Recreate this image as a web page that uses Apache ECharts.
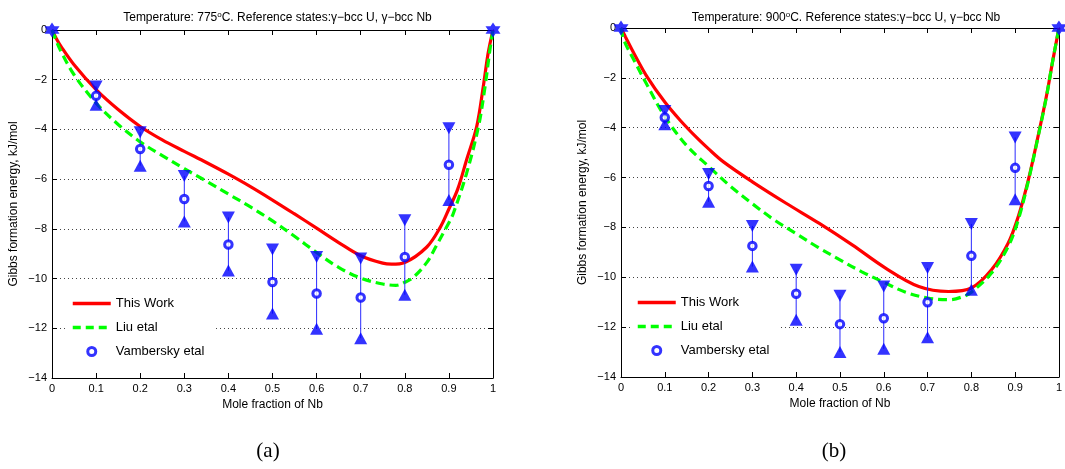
<!DOCTYPE html>
<html>
<head>
<meta charset="utf-8">
<script src="https://cdn.jsdelivr.net/npm/echarts@6/dist/echarts.min.js"></script>
<style>
html,body{margin:0;padding:0;background:#fff;}
#chart{width:1065px;height:469px;}
</style>
</head>
<body>
<div id="chart"></div>
<script>
// ---------- data ----------
const fracNb = [0.1, 0.2, 0.3, 0.4, 0.5, 0.6, 0.7, 0.8, 0.9];
const pureEndsX = [0, 1];
const pureEndsY = [0, 0];

// 775 C
const vamMean775 = [-2.65, -4.79, -6.8, -8.63, -10.14, -10.6, -10.76, -9.13, -5.42];
const vamHigh775 = [-2.27, -4.11, -5.87, -7.54, -8.83, -9.13, -9.19, -7.65, -3.95];
const vamLow775  = [-3.01, -5.46, -7.7, -9.68, -11.41, -12.02, -12.4, -10.65, -6.84];

const workX775 = [0, 0.01, 0.02, 0.05, 0.1, 0.15, 0.2, 0.25, 0.3, 0.35, 0.4, 0.45, 0.5, 0.55, 0.6, 0.65, 0.7, 0.75, 0.77, 0.8, 0.85, 0.88, 0.9, 0.92, 0.94, 0.963, 0.978, 0.989, 1];
const workY775 = [0, -0.35, -0.65, -1.4, -2.4, -3.2, -3.88, -4.42, -4.88, -5.33, -5.8, -6.3, -6.84, -7.4, -7.97, -8.55, -9.08, -9.38, -9.42, -9.35, -8.73, -7.95, -7.2, -6.4, -5.23, -3.89, -2.27, -0.93, 0];

const liuX775 = [0, 0.01, 0.02, 0.05, 0.1, 0.15, 0.2, 0.25, 0.3, 0.35, 0.4, 0.45, 0.5, 0.55, 0.6, 0.65, 0.7, 0.75, 0.78, 0.8, 0.82, 0.85, 0.87, 0.9, 0.91, 0.94, 0.967, 0.982, 0.993, 1];
const liuY775 = [0, -0.45, -0.85, -1.8, -2.94, -3.8, -4.5, -5.05, -5.58, -6.08, -6.6, -7.12, -7.68, -8.3, -8.95, -9.55, -9.98, -10.22, -10.27, -10.15, -9.94, -9.35, -8.73, -7.75, -7.38, -5.77, -3.89, -2.27, -0.8, 0];

// 900 C
const vamMean900 = [-3.59, -6.34, -8.74, -10.66, -11.88, -11.64, -11.0, -9.14, -5.61];
const vamHigh900 = [-3.33, -5.86, -7.94, -9.7, -10.74, -10.37, -9.63, -7.86, -4.39];
const vamLow900  = [-3.86, -6.97, -9.57, -11.7, -13.0, -12.87, -12.41, -10.5, -6.87];

const workX900 = [0, 0.01, 0.03, 0.06, 0.1, 0.136, 0.173, 0.2, 0.234, 0.3, 0.377, 0.452, 0.528, 0.604, 0.68, 0.748, 0.8, 0.846, 0.884, 0.907, 0.93, 0.952, 0.971, 0.986, 1];
const workY900 = [0, -0.35, -1.03, -1.97, -2.97, -3.72, -4.4, -4.85, -5.37, -6.17, -7.03, -7.83, -8.7, -9.63, -10.37, -10.57, -10.43, -9.7, -8.63, -7.57, -6.1, -4.37, -2.77, -1.3, 0];

const liuX900 = [0, 0.007, 0.03, 0.06, 0.1, 0.15, 0.2, 0.25, 0.3, 0.35, 0.4, 0.45, 0.5, 0.55, 0.6, 0.65, 0.7, 0.75, 0.78, 0.8, 0.846, 0.884, 0.907, 0.93, 0.952, 0.971, 0.986, 1];
const liuY900 = [0, -0.5, -1.3, -2.3, -3.55, -4.72, -5.55, -6.35, -7.05, -7.7, -8.25, -8.8, -9.3, -9.78, -10.2, -10.6, -10.83, -10.9, -10.78, -10.6, -9.83, -8.77, -7.7, -6.15, -4.4, -2.8, -1.3, 0];

const temperatures = ['775', '900'];
const panelLabels = ['(a)', '(b)'];
const seriesNames = ['This Work', 'Liu etal', 'Vambersky etal'];
const xAxisName = 'Mole fraction of Nb';
const yAxisName = 'Gibbs formation energy, kJ/mol';

// ---------- build ----------
const zip = (a, b) => a.map((v, i) => [v, b[i]]);
const FONT = 'Liberation Sans';
const STAR = 'path://M0,-10 L8.66,5 L-8.66,5 Z M0,10 L-8.66,-5 L8.66,-5 Z';

const panels = [
  {work: zip(workX775, workY775), liu: zip(liuX775, liuY775), mean: vamMean775, hi: vamHigh775, lo: vamLow775},
  {work: zip(workX900, workY900), liu: zip(liuX900, liuY900), mean: vamMean900, hi: vamHigh900, lo: vamLow900}
];

const grids = [
  {left: 52, right: 572, top: 30, bottom: 91},
  {left: 621, right: 4, top: 28, bottom: 92}
];

const xAxes = [], yAxes = [], series = [];
const minusFmt = v => (v < 0 ? '\u2212' + Math.abs(v) : String(v));

panels.forEach((p, g) => {
  const axisLine = {show: true, onZero: false, lineStyle: {color: '#000', width: 1}};
  const tick = {show: true, inside: true, length: 5, lineStyle: {color: '#000', width: 1}};
  xAxes.push({
    type: 'value', gridIndex: g, min: 0, max: 1, interval: 0.1, position: 'bottom',
    axisLine, axisTick: tick,
    axisLabel: {color: '#000', fontSize: 11, fontFamily: FONT, margin: 5},
    splitLine: {show: false},
    name: xAxisName, nameLocation: 'middle', nameGap: 20,
    nameTextStyle: {color: '#000', fontSize: 12, fontFamily: FONT}
  });
  xAxes.push({
    type: 'value', gridIndex: g, min: 0, max: 1, interval: 0.1, position: 'top',
    axisLine, axisTick: tick, axisLabel: {show: false}, splitLine: {show: false}
  });
  yAxes.push({
    type: 'value', gridIndex: g, min: -14, max: 0, interval: 2, position: 'left',
    axisLine, axisTick: tick,
    axisLabel: {color: '#000', fontSize: 11, fontFamily: FONT, margin: 5, formatter: minusFmt},
    splitLine: {show: true, lineStyle: {color: '#444', width: 1, type: [1, 3]}},
    name: yAxisName, nameLocation: 'middle', nameGap: 32,
    nameTextStyle: {color: '#000', fontSize: 12, fontFamily: FONT}
  });
  yAxes.push({
    type: 'value', gridIndex: g, min: -14, max: 0, interval: 2, position: 'right',
    axisLine, axisTick: tick, axisLabel: {show: false}, splitLine: {show: false}
  });
  const xi = g * 2, yi = g * 2;
  series.push({
    name: seriesNames[0], type: 'line', xAxisIndex: xi, yAxisIndex: yi,
    data: p.work, symbol: 'none', showSymbol: false, smooth: 0.35, z: 2,
    lineStyle: {color: '#ff0000', width: 3.2}, itemStyle: {color: '#ff0000'}
  });
  series.push({
    name: seriesNames[1], type: 'line', xAxisIndex: xi, yAxisIndex: yi,
    data: p.liu, symbol: 'none', showSymbol: false, smooth: 0.35, z: 3,
    lineStyle: {color: '#00ff00', width: 3.2, type: [9, 5]}, itemStyle: {color: '#00ff00'}
  });
  series.push({
    type: 'custom', xAxisIndex: xi, yAxisIndex: yi, z: 4,
    data: fracNb.map((x, i) => [x, p.hi[i], p.lo[i]]),
    encode: {x: 0, y: [1, 2]},
    renderItem: (params, api) => {
      const a = api.coord([api.value(0), api.value(1)]);
      const b = api.coord([api.value(0), api.value(2)]);
      return {type: 'line', shape: {x1: a[0], y1: a[1], x2: b[0], y2: b[1]},
              style: {stroke: '#2a2aff', lineWidth: 1}};
    }
  });
  series.push({
    type: 'scatter', xAxisIndex: xi, yAxisIndex: yi, z: 5,
    data: zip(fracNb, p.hi), symbol: 'triangle', symbolRotate: 180, symbolSize: [13, 12],
    itemStyle: {color: '#0000ff'}
  });
  series.push({
    type: 'scatter', xAxisIndex: xi, yAxisIndex: yi, z: 5,
    data: zip(fracNb, p.lo), symbol: 'triangle', symbolSize: [13, 12],
    itemStyle: {color: '#0000ff'}
  });
  series.push({
    name: seriesNames[2], type: 'scatter', xAxisIndex: xi, yAxisIndex: yi, z: 6,
    data: zip(fracNb, p.mean), symbol: 'circle', symbolSize: 7.5,
    itemStyle: {color: '#ffffff', borderColor: '#0000ff', borderWidth: 3}
  });
  series.push({
    type: 'scatter', xAxisIndex: xi, yAxisIndex: yi, z: 7,
    data: zip(pureEndsX, pureEndsY), symbol: STAR, symbolSize: 15,
    itemStyle: {color: '#0000ff'}
  });
});

const hidden = {color: 'rgba(0,0,0,0)', borderWidth: 0, opacity: 0};
const legendBase = {
  orient: 'vertical', itemWidth: 38, itemHeight: 8, itemGap: 11, selectedMode: false,
  backgroundColor: '#ffffff', padding: [5, 10, 5, 5],
  textStyle: {color: '#000', fontSize: 13, fontFamily: FONT},
  data: [
    {name: seriesNames[0], itemStyle: hidden, lineStyle: {color: '#ff0000', width: 3.5}},
    {name: seriesNames[1], itemStyle: hidden, lineStyle: {color: '#00ff00', width: 3.5, type: [8, 5]}},
    {name: seriesNames[2], itemStyle: {color: '#fff', borderColor: '#0000ff', borderWidth: 3}}
  ]
};

const titles = [];
const titleCenters = [272.5, 841];
temperatures.forEach((t, i) => {
  titles.push({
    text: 'Temperature: ' + t + '{s|o}C. Reference states:\u03b3\u2212bcc U, \u03b3\u2212bcc Nb',
    left: titleCenters[i], top: 6, textAlign: 'center',
    textStyle: {fontSize: 12, fontWeight: 'normal', fontFamily: FONT, color: '#000', lineHeight: 14,
      rich: {s: {fontSize: 8, fontFamily: FONT, color: '#000', verticalAlign: 'top', lineHeight: 14, padding: [0, 0, 4, 0]}}}
  });
});
const panelCenters = [263, 829];
panelLabels.forEach((s, i) => {
  titles.push({
    text: s, left: panelCenters[i], top: 436, textAlign: 'center',
    textStyle: {fontSize: 21, fontWeight: 'normal', fontFamily: 'Liberation Serif', color: '#000'}
  });
});

const chart = echarts.init(document.getElementById('chart'), null, {renderer: 'canvas'});
chart.setOption({
  animation: false,
  backgroundColor: '#fff',
  title: titles,
  grid: grids,
  xAxis: xAxes,
  yAxis: yAxes,
  legend: [
    Object.assign({}, legendBase, {left: 66, top: 292}),
    Object.assign({}, legendBase, {left: 631, top: 291})
  ],
  series
});
</script>
</body>
</html>
